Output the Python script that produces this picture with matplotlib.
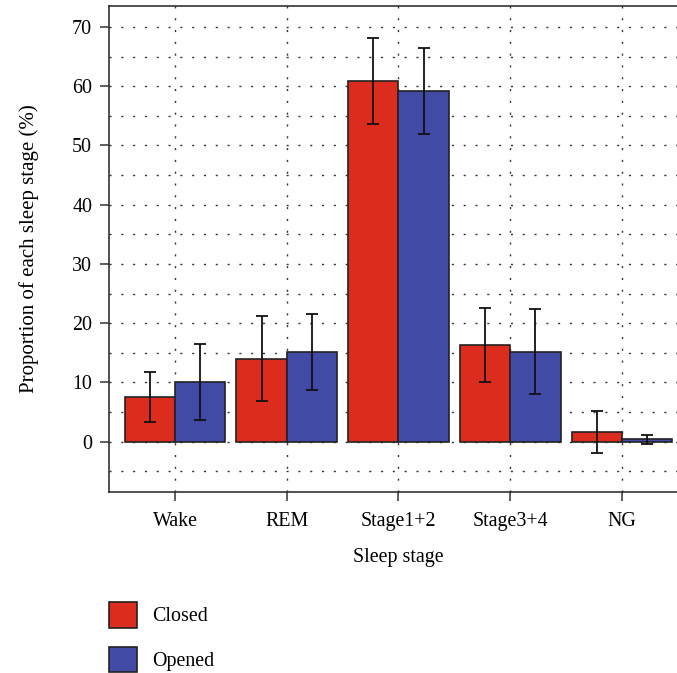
import numpy as np
import matplotlib.pyplot as plt
from matplotlib.patches import Patch

# data
stages = ["Wake", "REM", "Stage1+2", "Stage3+4", "NG"]
closed_mean = [7.5, 14.0, 60.9, 16.3, 1.6]
closed_err = [4.2, 7.2, 7.3, 6.3, 3.5]
opened_mean = [10.1, 15.1, 59.2, 15.2, 0.4]
opened_err = [6.4, 6.4, 7.3, 7.2, 0.8]

red = "#dc2c1e"
blue = "#414ba6"

plt.rcParams["font.family"] = ["Liberation Serif", "DejaVu Serif"]
plt.rcParams["font.size"] = 14.4

fig = plt.figure(figsize=(6.77, 6.73), dpi=100)
ax = fig.add_axes([109.5 / 677, 1 - 492 / 673, 578 / 677, 486.3 / 673])

x = np.arange(len(stages))
w = 0.45

# dotted grid at every 5 units and at each category
ax.set_axisbelow(True)
for yv in np.arange(-5, 75, 5):
    ax.axhline(yv, color="#333333", lw=1.0, ls=(0, (1.5, 7)), zorder=0)
for xv in x:
    ax.axvline(xv, color="#333333", lw=1.0, ls=(0, (1.5, 7)), zorder=0)

err_kw = dict(ecolor="#111111", elinewidth=1.3, capsize=4.3, capthick=1.3)
ax.bar(x - w / 2, closed_mean, w, yerr=closed_err, color=red,
       edgecolor="#222222", linewidth=1.2, error_kw=err_kw, zorder=2)
ax.bar(x + w / 2, opened_mean, w, yerr=opened_err, color=blue,
       edgecolor="#222222", linewidth=1.2, error_kw=err_kw, zorder=2)

ax.set_xlim(-0.586, 4.586)
ax.set_ylim(-8.5, 73.6)
ax.set_yticks(np.arange(0, 71, 10))
ax.set_xticks(x)
ax.set_xticklabels(stages)
ax.tick_params(axis="both", direction="out", length=6.5, width=1.1,
               color="#333333")
ax.tick_params(axis="y", pad=6)
ax.tick_params(axis="x", pad=8)

for side in ["left", "top", "bottom"]:
    ax.spines[side].set_linewidth(1.1)
    ax.spines[side].set_color("#222222")
ax.spines["right"].set_visible(False)

ax.set_xlabel("Sleep stage", labelpad=12)
ax.set_ylabel("Proportion of each sleep stage (%)", fontsize=15, labelpad=24)

handles = [Patch(facecolor=red, edgecolor="#222222", lw=1.2, label="Closed"),
           Patch(facecolor=blue, edgecolor="#222222", lw=1.2, label="Opened")]
fig.legend(handles=handles, loc="upper left",
           bbox_to_anchor=(109 / 677, 1 - 602 / 673), frameon=False,
           borderpad=0, borderaxespad=0, handlelength=1.4, handleheight=1.6,
           handletextpad=0.75, labelspacing=0.95)

fig.savefig("out.png", dpi=100)
